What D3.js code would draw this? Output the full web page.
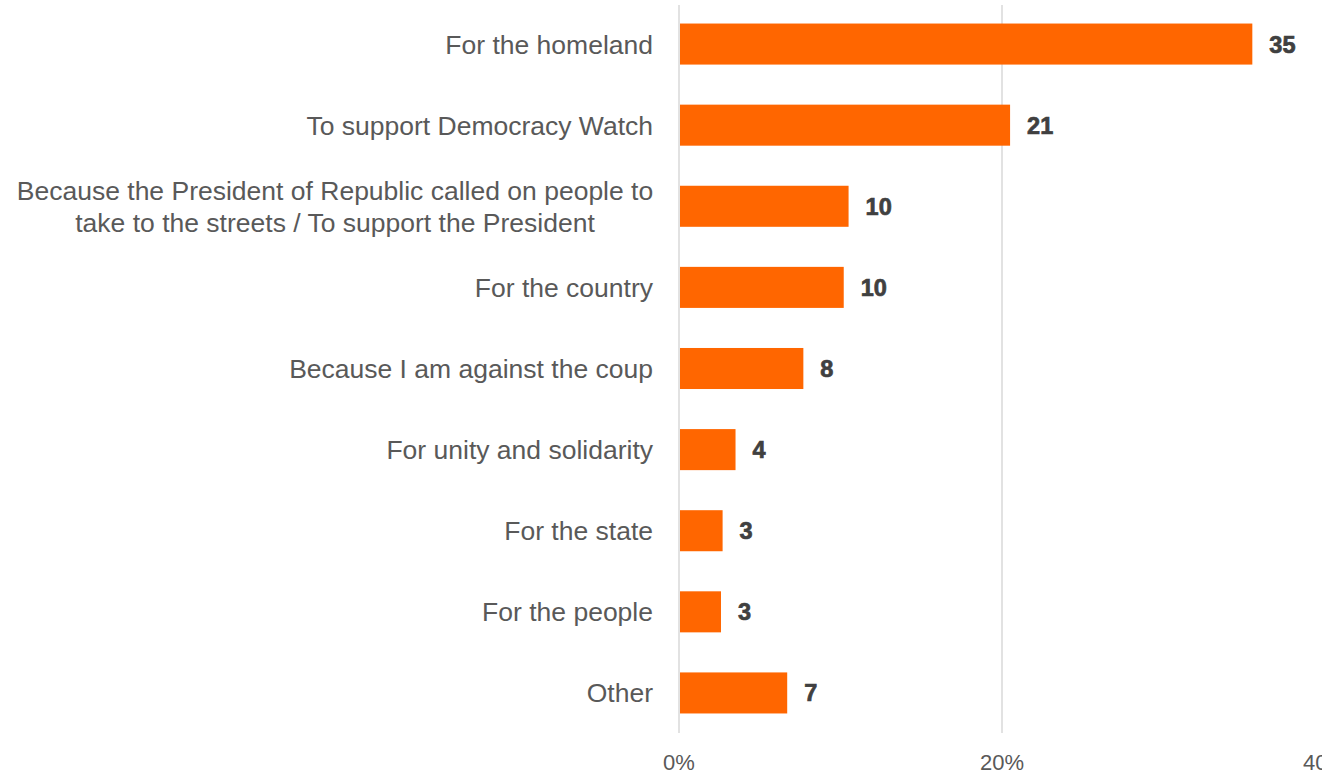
<!DOCTYPE html>
<html><head><meta charset="utf-8">
<script src="https://cdn.jsdelivr.net/npm/d3@7"></script>
<style>body{margin:0;background:#fff}svg{display:block}</style>
</head><body>
<svg id="c" width="1322" height="775"></svg>
<script>
const categories = [
  ["For the homeland"],
  ["To support Democracy Watch"],
  ["Because the President of Republic called on people to", "take to the streets / To support the President"],
  ["For the country"],
  ["Because I am against the coup"],
  ["For unity and solidarity"],
  ["For the state"],
  ["For the people"],
  ["Other"]
];
const values = [35.5, 20.5, 10.5, 10.2, 7.7, 3.5, 2.7, 2.6, 6.7];
const valueLabels = ["35", "21", "10", "10", "8", "4", "3", "3", "7"];
const tickValues = [0, 20, 40];
const tickLabels = ["0%", "20%", "40%"];

const svg = d3.select("#c");
const x = d3.scaleLinear().domain([0, 40]).range([679, 1325]);
const y = d3.scaleBand().domain(d3.range(categories.length)).range([3.5, 733.5])
  .paddingInner(0.494).paddingOuter(0.247);

// gridlines
svg.append("g").selectAll("line").data(tickValues).join("line")
  .attr("x1", d => x(d)).attr("x2", d => x(d))
  .attr("y1", 5).attr("y2", 733)
  .attr("stroke", "#d9d9d9").attr("stroke-width", 1.5);

// bars
svg.append("g").selectAll("rect").data(values).join("rect")
  .attr("x", x(0) + 1).attr("y", (d, i) => y(i))
  .attr("width", d => x(d) - x(0) - 1).attr("height", y.bandwidth())
  .attr("fill", "#ff6600");

// value labels
svg.append("g").selectAll("text").data(values).join("text")
  .attr("x", d => x(d) + 17).attr("y", (d, i) => y(i) + y.bandwidth() / 2)
  .attr("dy", "0.36em")
  .attr("font-family", "'Liberation Sans', Arial, sans-serif")
  .attr("font-weight", "bold").attr("font-size", 23.5)
  .attr("fill", "#404040").attr("stroke", "#404040").attr("stroke-width", 0.7)
  .text((d, i) => valueLabels[i]);

// category labels
const cl = svg.append("g").selectAll("text").data(categories).join("text")
  .attr("font-family", "'Liberation Sans', Arial, sans-serif")
  .attr("font-size", 26.5).attr("fill", "#595959");
cl.each(function(lines, i) {
  const t = d3.select(this);
  const cy = y(i) + y.bandwidth() / 2;
  const lh = 32;
  const wrapped = lines.length > 1;
  lines.forEach((ln, j) => {
    t.append("tspan")
      .attr("x", wrapped ? 335 : 653)
      .attr("text-anchor", wrapped ? "middle" : "end")
      .attr("y", cy + (j - (lines.length - 1) / 2) * lh)
      .attr("dy", "0.36em")
      .text(ln);
  });
});

// x axis tick labels
svg.append("g").selectAll("text").data(tickValues).join("text")
  .attr("x", d => x(d)).attr("y", 770)
  .attr("text-anchor", "middle")
  .attr("font-family", "'Liberation Sans', Arial, sans-serif")
  .attr("font-size", 22).attr("fill", "#595959")
  .text((d, i) => tickLabels[i]);
</script>
</body></html>
